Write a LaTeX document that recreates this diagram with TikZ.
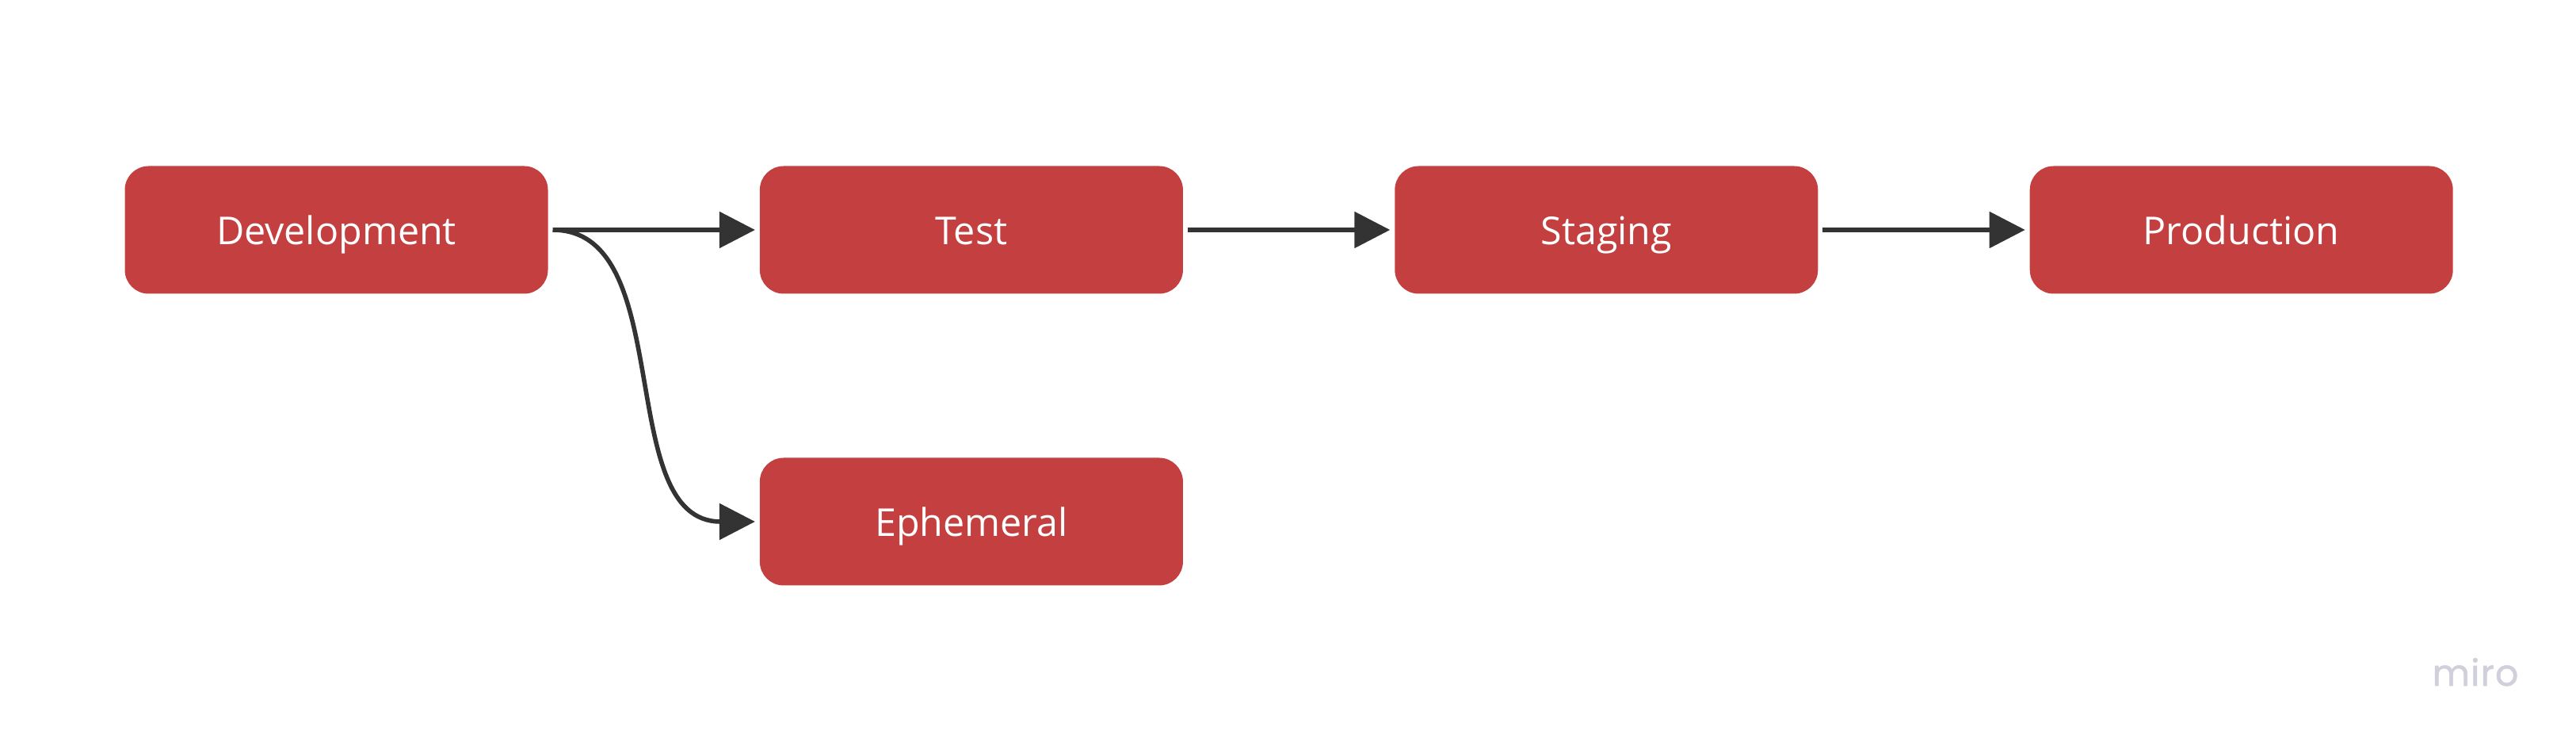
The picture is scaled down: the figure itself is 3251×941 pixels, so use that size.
\documentclass[tikz,border=0pt]{standalone}
\usepackage{fontspec}
\setmainfont{Open Sans}
\newfontfamily\mirofont[LetterSpace=2.5, FakeBold=1.2]{Poppins}
\definecolor{boxred}{HTML}{C43F3F}
\definecolor{linegray}{HTML}{333333}
\definecolor{markgray}{HTML}{D0D0DC}
\usetikzlibrary{positioning, arrows.meta}

\begin{document}
\begin{tikzpicture}[
        x=0.5pt, y=0.5pt,
        node distance=127.7pt,
        envbox/.style={fill=boxred, text=white, rounded corners=15pt, minimum width=267pt, minimum height=80.5pt, outer sep=3pt, text height=22pt, text depth=3.5pt, font=\fontsize{24.2}{28}\selectfont},
        flow/.style={draw=linegray, line width=2.8pt, -{Triangle[length=22.5pt, width=22.5pt]}}
    ]
    \useasboundingbox (0,0) rectangle (3251,941);
    % Top row
    \node[envbox] (development) at (424.5,651) {Development};
    \node[envbox, right=of development] (test) {Test};
    \node[envbox, right=of test] (staging) {Staging};
    \node[envbox, right=of staging] (production) {Production};
    % Branch below test
    \node[envbox, below=97.5pt of test] (ephemeral) {Ephemeral};
    % Arrows
    \draw[flow] (development) -- (test);
    \draw[flow] (test) -- (staging);
    \draw[flow] (staging) -- (production);
    \draw[flow] (development.east) .. controls +(79.5pt,0) and +(-90pt,0) .. (ephemeral.west);
    % Watermark
    \node[text=markgray, font=\mirofont\fontsize{23}{28}\selectfont, anchor=base] (miro) at (3124,76) {miro};
\end{tikzpicture}
\end{document}
